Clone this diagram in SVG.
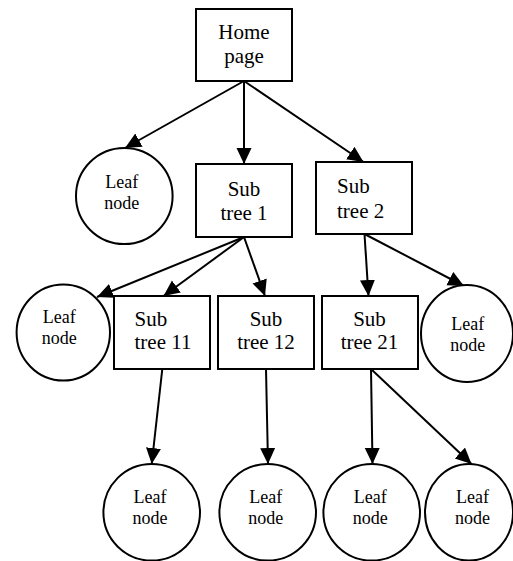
<svg xmlns="http://www.w3.org/2000/svg" width="513" height="561" viewBox="0 0 513 561">
<style>
.box{fill:#fff;stroke:#000;stroke-width:2}
.leaf{fill:#fff;stroke:#000;stroke-width:2}
text{font-family:'Liberation Serif','Times New Roman',Times,'DejaVu Serif',serif;fill:#000}
.bt{font-size:21px}
.lt{font-size:18px;text-anchor:middle}
.c{text-anchor:middle}
.edge{stroke:#000;stroke-width:2;fill:none;marker-end:url(#arr)}
</style>
<defs>
<marker id="arr" markerUnits="userSpaceOnUse" markerWidth="17" markerHeight="16" refX="16" refY="7.5" orient="auto">
<path d="M0,0 L16,7.5 L0,15 z" fill="#000"/>
</marker>
</defs>
<rect width="513" height="561" fill="#fff"/>
<g id="connectors">
<line class="edge" x1="244" y1="81" x2="125" y2="148"/>
<line class="edge" x1="244" y1="81" x2="244" y2="164"/>
<line class="edge" x1="244" y1="81" x2="363.5" y2="162"/>
<line class="edge" x1="244" y1="237" x2="97" y2="297"/>
<line class="edge" x1="244" y1="237" x2="163.5" y2="296"/>
<line class="edge" x1="244" y1="237" x2="265" y2="296"/>
<line class="edge" x1="364.5" y1="234" x2="368.5" y2="296"/>
<line class="edge" x1="364.5" y1="234" x2="464" y2="286"/>
<line class="edge" x1="162.3" y1="369" x2="151.7" y2="464"/>
<line class="edge" x1="266" y1="369" x2="268" y2="464"/>
<line class="edge" x1="371" y1="369" x2="372.5" y2="464"/>
<line class="edge" x1="371" y1="369" x2="471.5" y2="464"/>
</g>
<g id="home">
<rect class="box" x="196" y="9" width="96" height="72"/>
<text class="bt c" x="244" y="39" font-family="Liberation Serif">Home</text>
<text class="bt c" x="244" y="63" font-family="Liberation Serif">page</text>
</g>
<g id="leaf-top">
<ellipse class="leaf" cx="124.3" cy="196" rx="48.3" ry="48"/>
<text class="lt" x="121.7" y="188">Leaf</text>
<text class="lt" x="121.7" y="209">node</text>
</g>
<g id="subtree1">
<rect class="box" x="196" y="164" width="96" height="73"/>
<text class="bt c" x="244" y="196">Sub</text>
<text class="bt c" x="244" y="220">tree 1</text>
</g>
<g id="subtree2">
<rect class="box" x="316" y="162" width="96" height="72"/>
<text class="bt" x="337" y="193">Sub</text>
<text class="bt" x="337" y="218">tree 2</text>
</g>
<g id="leaf-left">
<ellipse class="leaf" cx="63.3" cy="332.5" rx="46.7" ry="48"/>
<text class="lt" x="59.3" y="322.5">Leaf</text>
<text class="lt" x="59.3" y="344">node</text>
</g>
<g id="subtree11">
<rect class="box" x="114" y="296" width="96" height="73"/>
<text class="bt" x="134.5" y="326">Sub</text>
<text class="bt" x="134.5" y="349">tree 11</text>
</g>
<g id="subtree12">
<rect class="box" x="218" y="296" width="96" height="73"/>
<text class="bt c" x="266" y="326">Sub</text>
<text class="bt c" x="266" y="349">tree 12</text>
</g>
<g id="subtree21">
<rect class="box" x="322" y="296" width="96" height="73"/>
<text class="bt c" x="369.5" y="326">Sub</text>
<text class="bt c" x="369.5" y="349">tree 21</text>
</g>
<g id="leaf-right">
<ellipse class="leaf" cx="467" cy="333.5" rx="46" ry="48.5"/>
<text class="lt" x="467.8" y="330">Leaf</text>
<text class="lt" x="467.8" y="351">node</text>
</g>
<g id="leaf-b1">
<ellipse class="leaf" cx="151.7" cy="512.3" rx="48.3" ry="48.3"/>
<text class="lt" x="150" y="503">Leaf</text>
<text class="lt" x="150" y="524">node</text>
</g>
<g id="leaf-b2">
<ellipse class="leaf" cx="267.7" cy="512.3" rx="48.3" ry="48.3"/>
<text class="lt" x="265.8" y="503">Leaf</text>
<text class="lt" x="265.8" y="524">node</text>
</g>
<g id="leaf-b3">
<ellipse class="leaf" cx="371.7" cy="512.3" rx="48.3" ry="48.3"/>
<text class="lt" x="370.2" y="503">Leaf</text>
<text class="lt" x="370.2" y="524">node</text>
</g>
<g id="leaf-b4">
<ellipse class="leaf" cx="469" cy="512.3" rx="44" ry="48.3"/>
<text class="lt" x="472.5" y="503">Leaf</text>
<text class="lt" x="472.5" y="524">node</text>
</g>
</svg>
